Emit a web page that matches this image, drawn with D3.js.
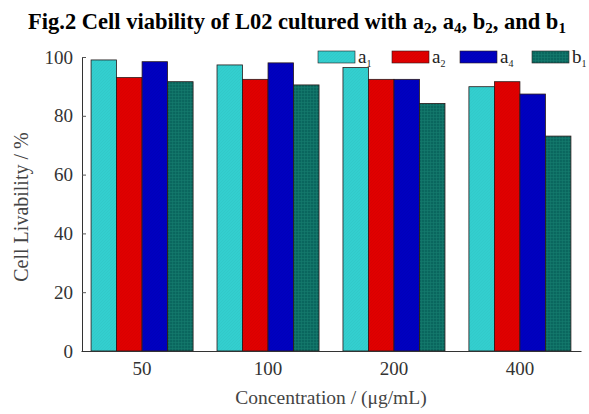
<!DOCTYPE html>
<html>
<head>
<meta charset="utf-8">
<script src="https://cdn.jsdelivr.net/npm/d3@7"></script>
<style>
  body { margin: 0; background: #fff; }
  text { font-family: "Liberation Serif", "Times New Roman", serif; }
</style>
</head>
<body>
<div id="graph"></div>
<script>
// data
const concentrations = ["50", "100", "200", "400"];
const seriesNames = ["a1", "a2", "a4", "b1"];
const a1 = [99.0, 97.3, 96.4, 89.9];
const a2 = [93.0, 92.4, 92.4, 91.6];
const a4 = [98.4, 98.0, 92.4, 87.4];
const b1 = [91.6, 90.5, 84.2, 73.1];
const yTicks = [0, 20, 40, 60, 80, 100];
const colors = ["#33cfcf", "#e00000", "#0000c0", "#0a665e"];

const width = 589;
const height = 414;
const marginLeft = 82;
const marginRight = 7;
const marginTop = 57;
const marginBottom = 63;

const svg = d3.create("svg")
    .attr("width", width)
    .attr("height", height);

const x0 = d3.scaleBand()
    .domain(concentrations)
    .range([marginLeft - 1, width - marginRight - 1])
    .paddingInner(0.19)
    .paddingOuter(0.08);

const x1 = d3.scaleBand()
    .domain(seriesNames)
    .range([0, x0.bandwidth()]);

const y = d3.scaleLinear()
    .domain([0, 100])
    .range([height - marginBottom, marginTop]);

// light texture on the bars
const defs = svg.append("defs");
colors.forEach((c, i) => {
  const p = defs.append("pattern")
      .attr("id", "pat" + i)
      .attr("width", 3).attr("height", 3)
      .attr("patternUnits", "userSpaceOnUse");
  p.append("rect").attr("width", 3).attr("height", 3).attr("fill", c);
  p.append("path")
      .attr("d", i === 3 ? "M0,0.5H3M0.5,0V3" : "M0,3L3,0")
      .attr("stroke", i === 3 ? "#1d8a7a" : d3.color(c).darker(0.25))
      .attr("stroke-width", 0.6)
      .attr("opacity", 0.6);
});

const allSeries = [a1, a2, a4, b1];
const rows = concentrations.map((c, i) => ({
  conc: c,
  values: seriesNames.map((s, j) => ({ key: s, idx: j, value: allSeries[j][i] }))
}));

svg.append("g")
  .selectAll("g")
  .data(rows)
  .join("g")
    .attr("transform", d => `translate(${x0(d.conc)},0)`)
  .selectAll("rect")
  .data(d => d.values)
  .join("rect")
    .attr("x", d => x1(d.key))
    .attr("y", d => y(d.value))
    .attr("width", x1.bandwidth())
    .attr("height", d => y(0) - y(d.value))
    .attr("fill", d => `url(#pat${d.idx})`)
    .attr("stroke", "#2a1a1a")
    .attr("stroke-width", 0.8);

// y axis, ticks pointing inward
const yAxis = svg.append("g")
    .attr("transform", `translate(${marginLeft},0)`)
    .call(d3.axisRight(y).tickValues(yTicks).tickSize(4).tickSizeOuter(0));
yAxis.select(".domain").attr("stroke", "#333");
yAxis.selectAll(".tick line").attr("stroke", "#555");
yAxis.selectAll(".tick text")
    .attr("x", -9)
    .attr("text-anchor", "end")
    .attr("fill", "#333")
    .style("font-size", "19px");

// x axis
const xAxis = svg.append("g")
    .attr("transform", `translate(0,${height - marginBottom})`)
    .call(d3.axisBottom(x0).tickSize(0).tickSizeOuter(0));
xAxis.select(".domain").attr("stroke", "#333");
xAxis.selectAll(".tick text")
    .attr("y", 11)
    .attr("fill", "#333")
    .style("font-size", "19px");

// axis titles
svg.append("text")
    .attr("transform", `translate(28,${(y(0) + y(100)) / 2 + 3}) rotate(-90)`)
    .attr("text-anchor", "middle")
    .attr("fill", "#444")
    .style("font-size", "20px")
    .text("Cell Livability / %");

svg.append("text")
    .attr("x", 331)
    .attr("y", 404)
    .attr("text-anchor", "middle")
    .attr("fill", "#444")
    .style("font-size", "19.5px")
    .text("Concentration / (μg/mL)");

// title
const title = svg.append("text")
    .attr("x", 297)
    .attr("y", 33)
    .attr("text-anchor", "middle")
    .attr("fill", "#000")
    .style("font-size", "22.5px")
    .style("font-weight", "bold");
const sub = (t, s) => {
  title.append("tspan").attr("dy", -4).text(t);
  title.append("tspan").attr("dy", 4).style("font-size", "15px").text(s);
};
title.append("tspan").attr("dy", 4).text("");
sub("Fig.2 Cell viability of L02 cultured with a", "2");
sub(", a", "4");
sub(", b", "2");
sub(", and b", "1");

// legend
const legendX = [318, 392, 460, 532];
const legend = svg.append("g")
  .selectAll("g")
  .data(seriesNames)
  .join("g")
    .attr("transform", (d, i) => `translate(${legendX[i]},51)`);
legend.append("rect")
    .attr("width", 37)
    .attr("height", 12)
    .attr("fill", (d, i) => `url(#pat${i})`)
    .attr("stroke", "#2a1a1a")
    .attr("stroke-width", 0.6);
const lt = legend.append("text")
    .attr("x", 40)
    .attr("y", 12)
    .attr("fill", "#222")
    .style("font-size", "19px");
lt.append("tspan").text(d => d[0]);
lt.append("tspan").attr("dy", 4).style("font-size", "10px").text(d => d[1]);

document.getElementById("graph").appendChild(svg.node());
</script>
</body>
</html>
